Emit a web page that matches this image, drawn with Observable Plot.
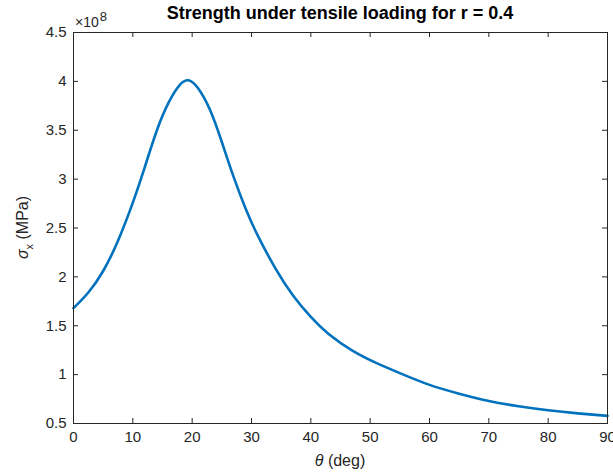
<!DOCTYPE html>
<html><head><meta charset="utf-8">
<script src="https://cdn.jsdelivr.net/npm/d3@7"></script>
<script src="https://cdn.jsdelivr.net/npm/@observablehq/plot@0.6"></script>
<style>body{margin:0;background:#fff}</style>
</head><body><div id="chart"></div>
<script>
// Data (sigma in units of 1e8 MPa)
const theta = [0, 2.5, 5, 7.5, 10, 12, 14, 16, 18, 19.5, 21, 23, 25, 27, 29, 31, 34, 37, 40, 43, 47, 51, 55, 60, 65, 70, 75, 80, 85, 90];
const sigma = [1.68, 1.84, 2.06, 2.37, 2.76, 3.12, 3.49, 3.78, 3.97, 4.01, 3.93, 3.71, 3.38, 3.02, 2.70, 2.43, 2.09, 1.81, 1.59, 1.415, 1.245, 1.12, 1.015, 0.895, 0.805, 0.73, 0.677, 0.636, 0.604, 0.578];
const xTicks = [0, 10, 20, 30, 40, 50, 60, 70, 80, 90];
const yTicks = [0.5, 1, 1.5, 2, 2.5, 3, 3.5, 4, 4.5];
const titleText = "Strength under tensile loading for r = 0.4";
const exponentBase = "\u00d710";
const exponentPower = "8";

const W = 613, H = 472, mL = 73, mR = 6, mT = 32, mB = 49;
const fw = W - mL - mR, fh = H - mT - mB, tk = 5;
const axisColor = "#262626";
const data = theta.map((t, i) => ({theta: t, sigma: sigma[i]}));
const fmt = d3.format("~g");

const svg = Plot.plot({
  width: W, height: H,
  marginLeft: mL, marginRight: mR, marginTop: mT, marginBottom: mB,
  style: {fontFamily: "'Liberation Sans', Arial, sans-serif", fontSize: "15px", color: axisColor, background: "#fff", overflow: "visible"},
  x: {domain: [0, 90], label: null},
  y: {domain: [0.5, 4.5], label: null},
  marks: [
    Plot.line(data, {x: "theta", y: "sigma", stroke: "#0072BD", strokeWidth: 2.6, curve: "natural"}),
    Plot.tickY(yTicks, {y: d => d, stroke: axisColor, insetRight: fw - tk}),
    Plot.tickY(yTicks, {y: d => d, stroke: axisColor, insetLeft: fw - tk}),
    Plot.tickX(xTicks, {x: d => d, stroke: axisColor, insetTop: fh - tk}),
    Plot.tickX(xTicks, {x: d => d, stroke: axisColor, insetBottom: fh - tk}),
    Plot.axisX(xTicks, {tickSize: 0, tickPadding: 8, tickFormat: fmt, label: null}),
    Plot.axisY(yTicks, {tickSize: 0, tickPadding: 7, tickFormat: fmt, label: null}),
    Plot.frame({stroke: axisColor})
  ]
});
document.getElementById("chart").appendChild(svg);

const s = d3.select(svg);
const cx = mL + fw / 2, cy = mT + fh / 2;
s.append("text").attr("x", cx).attr("y", 19).attr("text-anchor", "middle")
  .style("font-weight", "bold").style("font-size", "18px").attr("fill", "#000").text(titleText);
const ex = s.append("text").attr("x", 75).attr("y", 27).attr("text-anchor", "start")
  .style("font-size", "14px").attr("fill", axisColor);
ex.append("tspan").text(exponentBase);
ex.append("tspan").attr("dy", -6).attr("dx", 1).style("font-size", "13px").text(exponentPower);
const xl = s.append("text").attr("x", cx).attr("y", 466).attr("text-anchor", "middle")
  .style("font-size", "16px").attr("fill", axisColor);
xl.append("tspan").style("font-style", "italic").text("\u03b8");
xl.append("tspan").text(" (deg)");
const yl = s.append("text").attr("transform", `translate(28,${cy}) rotate(-90)`).attr("text-anchor", "middle")
  .style("font-size", "16px").attr("fill", axisColor);
yl.append("tspan").style("font-style", "italic").text("\u03c3");
yl.append("tspan").style("font-size", "11px").attr("dy", 5).text("x");
yl.append("tspan").attr("dy", -5).text(" (MPa)");
</script>
</body></html>
